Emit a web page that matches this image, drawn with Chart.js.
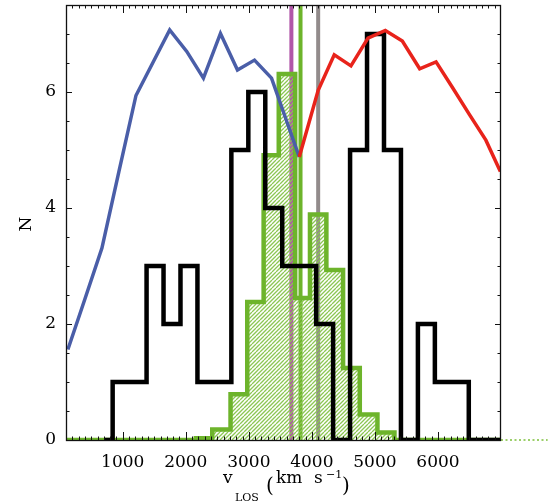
<!DOCTYPE html>
<html>
<head>
<meta charset="utf-8">
<title>N vs v_LOS</title>
<script src="https://cdn.jsdelivr.net/npm/chart.js@4.4.1/dist/chart.umd.min.js"></script>
<style>
  body { margin: 0; background: #fff; }
  #paramChart { display: block; }
</style>
</head>
<body>
<canvas id="paramChart" width="558" height="504"></canvas>
<script>
// tick labels
var xTicks = [1000, 2000, 3000, 4000, 5000, 6000];
var yTicks = [0, 2, 4, 6];

// observed histogram (black)
var blackEdges = [840, 1109, 1378, 1647, 1916, 2185, 2454, 2723, 2992, 3261, 3530, 3799, 4068, 4337, 4606, 4875, 5144, 5413, 5682, 5951, 6220, 6489];
var blackCounts = [1, 1, 3, 2, 3, 1, 1, 5, 6, 4, 3, 3, 2, 0, 5, 7, 5, 0, 2, 1, 1];

// model histogram (green, hatched)
var greenEdges = [2160, 2420, 2710, 2975, 3235, 3475, 3735, 3970, 4230, 4495, 4760, 5040, 5310];
var greenCounts = [0.03, 0.18, 0.79, 2.38, 4.91, 6.31, 2.45, 3.89, 2.93, 1.24, 0.44, 0.13];

// blue curve (left side)
var blueV = [130, 400, 670, 940, 1210, 1475, 1745, 2015, 2280, 2550, 2820, 3090, 3360, 3800];
var blueN = [1.56, 2.43, 3.31, 4.63, 5.94, 6.5, 7.07, 6.7, 6.24, 7.01, 6.38, 6.55, 6.24, 4.88];

// red curve (right side)
var redV = [3800, 4100, 4355, 4620, 4890, 5165, 5435, 5710, 5970, 6235, 6500, 6760, 6990];
var redN = [4.88, 6.03, 6.64, 6.45, 6.93, 7.06, 6.88, 6.40, 6.52, 6.07, 5.61, 5.17, 4.63];

// vertical markers
var magentaV = 3675;
var medianV = 3820;
var grayV = 4100;

var xMin = 100, xMax = 7000, yMin = 0, yMax = 7.5;

function stepPoints(edges, counts, from, to) {
  var pts = [{x: from, y: 0}];
  var prev = 0;
  for (var i = 0; i < counts.length; i++) {
    pts.push({x: edges[i], y: prev});
    pts.push({x: edges[i], y: counts[i]});
    prev = counts[i];
  }
  pts.push({x: edges[edges.length - 1], y: prev});
  pts.push({x: edges[edges.length - 1], y: 0});
  pts.push({x: to, y: 0});
  return pts;
}

function curve(xs, ys) {
  var pts = [];
  for (var i = 0; i < xs.length; i++) pts.push({x: xs[i], y: ys[i]});
  return pts;
}

function vline(v) {
  return [{x: v, y: yMin}, {x: v, y: yMax}];
}

// diagonal hatch tile (8x8, two stripes, see-through)
function hatch() {
  var c = document.createElement('canvas');
  c.width = 8; c.height = 8;
  var g = c.getContext('2d');
  g.strokeStyle = '#8cc653';
  g.lineWidth = 1.3;
  g.beginPath();
  for (var k = -8; k <= 16; k += 4) {
    g.moveTo(k, 8); g.lineTo(k + 8, 0);
  }
  g.stroke();
  return chartCtx.createPattern(c, 'repeat');
}

var framePlugin = {
  id: 'frame',
  afterDraw: function(chart) {
    var ctx = chart.ctx, a = chart.chartArea;
    var xs = chart.scales.x, ys = chart.scales.y;
    ctx.save();
    ctx.strokeStyle = '#111';
    ctx.lineWidth = 1.3;
    ctx.strokeRect(a.left + 0.5, a.top + 0.5, a.right - a.left - 1, a.bottom - a.top);
    ctx.lineWidth = 1;
    ctx.beginPath();
    for (var v = 200; v < xMax; v += 100) {
      var px = Math.round(xs.getPixelForValue(v)) + 0.5;
      var len = v % 1000 === 0 ? 8 : 3.5;
      ctx.moveTo(px, a.bottom); ctx.lineTo(px, a.bottom - len);
      ctx.moveTo(px, a.top); ctx.lineTo(px, a.top + len);
    }
    for (var n = 0.5; n < yMax; n += 0.5) {
      var py = Math.round(ys.getPixelForValue(n)) + 0.5;
      var l2 = n % 2 === 0 ? 6 : 3.5;
      ctx.moveTo(a.left, py); ctx.lineTo(a.left + l2, py);
      ctx.moveTo(a.right, py); ctx.lineTo(a.right - l2, py);
    }
    ctx.stroke();

    // axis titles
    ctx.fillStyle = '#000';
    ctx.textBaseline = 'alphabetic';
    ctx.textAlign = 'left';
    ctx.font = '17px "DejaVu Serif"';
    ctx.fillText('v', 223, 483);
    ctx.fillText('km', 276, 483);
    ctx.fillText('s', 314, 483);
    ctx.font = '20px "DejaVu Serif"';
    ctx.fillText('(', 266, 492);
    ctx.fillText(')', 342, 492);
    ctx.font = '11px "DejaVu Serif"';
    ctx.fillText('LOS', 235, 501);
    ctx.fillText('\u22121', 326, 478);

    ctx.translate(31, 224);
    ctx.rotate(-Math.PI / 2);
    ctx.textAlign = 'center';
    ctx.font = '17px "DejaVu Serif"';
    ctx.fillText('N', 0, 0);
    ctx.restore();
  }
};

Chart.defaults.font.family = '"DejaVu Serif"';
Chart.defaults.font.size = 17;
Chart.defaults.color = '#000';

var ctx = document.getElementById('paramChart');
var chartCtx = ctx.getContext('2d');

var chart = new Chart(ctx, {
  type: 'line',
  data: {
    datasets: [
      { label: 'red', data: curve(redV, redN), borderColor: '#e8231b', borderWidth: 3.5 },
      { label: 'blue', data: curve(blueV, blueN), borderColor: '#4a5ea8', borderWidth: 3.5 },
      { label: 'observed', data: stepPoints(blackEdges, blackCounts, 710, xMax), borderColor: '#000', borderWidth: 4.5 },
      { label: 'model', data: stepPoints(greenEdges, greenCounts, xMin, xMax), borderColor: '#6db42b', borderWidth: 4.5,
        fill: 'origin', backgroundColor: hatch() },
      { label: 'tail', data: [{x: xMax, y: 0}, {x: 7740, y: 0}], borderColor: '#7cc03a', borderWidth: 1.5,
        borderDash: [2, 2.5], clip: false },
      { label: 'median', data: vline(medianV), borderColor: '#6db42b', borderWidth: 4 },
      { label: 'gray', data: vline(grayV), borderColor: '#928b8b', borderWidth: 4 },
      { label: 'magenta', data: vline(magentaV), borderColor: '#b156a8', borderWidth: 4 }
    ]
  },
  options: {
    responsive: false,
    animation: false,
    devicePixelRatio: 1,
    layout: { padding: { left: 0, right: 57, top: 5, bottom: 0 } },
    elements: {
      point: { radius: 0, hoverRadius: 0 },
      line: { tension: 0, borderJoinStyle: 'miter', borderCapStyle: 'butt', fill: false }
    },
    plugins: { legend: { display: false }, tooltip: { enabled: false } },
    scales: {
      x: {
        type: 'linear', min: xMin, max: xMax,
        grid: { display: false, drawTicks: false }, border: { display: false },
        ticks: { padding: 12, maxRotation: 0, autoSkip: false, callback: function(v) { return String(v); } },
        afterBuildTicks: function(s) { s.ticks = xTicks.map(function(v) { return {value: v}; }); },
        afterFit: function(s) { s.height = 64; s.paddingLeft = 0; s.paddingRight = 0; }
      },
      y: {
        type: 'linear', min: yMin, max: yMax,
        grid: { display: false, drawTicks: false }, border: { display: false },
        ticks: { padding: 10, callback: function(v) { return String(v); } },
        afterBuildTicks: function(s) { s.ticks = yTicks.map(function(v) { return {value: v}; }); },
        afterFit: function(s) { s.width = 66; s.paddingTop = 0; s.paddingBottom = 0; }
      }
    }
  },
  plugins: [framePlugin]
});
</script>
</body>
</html>
